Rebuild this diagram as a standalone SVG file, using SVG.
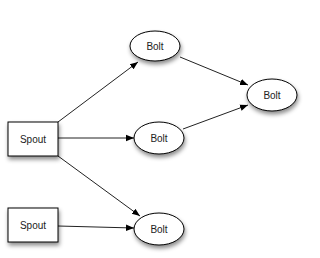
<svg xmlns="http://www.w3.org/2000/svg" width="320" height="258" viewBox="0 0 320 258">
<style>
.node{fill:#fff;stroke:#000;stroke-width:1;filter:url(#sh)}
.lbl{font-family:"Liberation Sans",Arial,sans-serif;font-size:10px;fill:#222;text-anchor:middle;dominant-baseline:central}
.edge{stroke:#222;stroke-width:1;fill:none;marker-end:url(#ah)}
</style>
<defs>
<filter id="sh" x="-30%" y="-30%" width="170%" height="180%">
<feDropShadow dx="1" dy="3" stdDeviation="2" flood-color="#000" flood-opacity="0.45"/>
</filter>
<marker id="ah" viewBox="0 0 10 10" refX="10" refY="5" markerWidth="8" markerHeight="8" markerUnits="userSpaceOnUse" orient="auto">
<path d="M0,1 L10,5 L0,9 z" fill="#000"/>
</marker>
</defs>
<rect width="320" height="258" fill="#fff"/>
<g id="connectors">
<line class="edge" x1="58" y1="122" x2="138" y2="62"/>
<line class="edge" x1="180" y1="57" x2="248" y2="85"/>
<line class="edge" x1="183" y1="129" x2="248" y2="105"/>
<line class="edge" x1="58" y1="138" x2="134" y2="138"/>
<line class="edge" x1="58" y1="156" x2="140" y2="216"/>
<line class="edge" x1="58" y1="226" x2="134" y2="228"/>
</g>
<g id="spout1"><rect class="node" x="8" y="122" width="50" height="34"/><text class="lbl" x="33" y="139">Spout</text></g>
<g id="spout2"><rect class="node" x="8" y="208" width="50" height="34"/><text class="lbl" x="33" y="225">Spout</text></g>
<g id="bolt1"><ellipse class="node" cx="155" cy="46" rx="25" ry="15"/><text class="lbl" x="155" y="46">Bolt</text></g>
<g id="bolt2"><ellipse class="node" cx="272" cy="95" rx="25" ry="16"/><text class="lbl" x="272" y="95">Bolt</text></g>
<g id="bolt3"><ellipse class="node" cx="159" cy="138" rx="25" ry="16"/><text class="lbl" x="159" y="138">Bolt</text></g>
<g id="bolt4"><ellipse class="node" cx="159" cy="229" rx="25" ry="16"/><text class="lbl" x="159" y="229">Bolt</text></g>
</svg>
